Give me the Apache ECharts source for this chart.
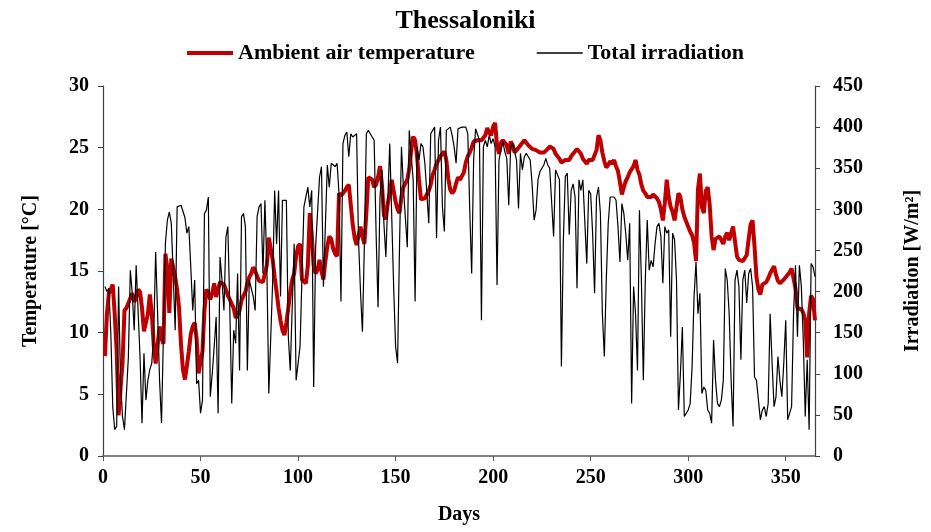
<!DOCTYPE html>
<html><head><meta charset="utf-8">
<script src="https://cdn.jsdelivr.net/npm/echarts@6/dist/echarts.min.js"></script>
<style>html,body{margin:0;padding:0;background:#fff}#c{width:931px;height:532px}</style>
</head><body><div id="c"></div>
<script>
const chartTitle = 'Thessaloniki';
const seriesNames = ['Ambient air temperature', 'Total irradiation'];
const xAxisName = 'Days';
const leftAxisName = 'Temperature [°C]';
const rightAxisName = 'Irradiation [W/m²]';
const xTicks = [0, 50, 100, 150, 200, 250, 300, 350];

// Daily mean ambient air temperature, days 1..365 (°C)
const temperature = [
8.1,11.5,13.2,13.5,13.9,11.5,8.5,3.3,5.5,7.5,
11.8,12.0,12.1,12.8,13.2,12.5,12.8,13.5,13.3,12.0,
10.1,10.0,11.5,13.1,11.6,9.0,7.5,7.5,10.5,9.5,
9.1,16.4,15.2,11.6,16.0,15.3,14.5,13.5,12.0,9.0,
7.0,6.2,7.3,8.5,9.9,10.5,10.8,9.5,6.7,6.7,
8.5,11.8,13.5,13.2,12.7,13.2,14.0,12.9,13.5,14.1,
14.0,13.9,13.5,13.0,12.7,12.3,12.0,11.2,11.4,11.8,
12.6,13.0,13.3,14.0,14.5,14.8,15.3,15.0,14.6,14.2,
14.1,14.1,14.0,15.5,17.7,16.8,15.9,14.5,13.3,12.0,
11.0,10.2,9.8,10.8,12.0,13.3,14.3,14.8,16.2,17.0,
17.2,14.3,14.2,14.0,15.4,19.7,18.0,15.5,14.8,15.1,
15.9,15.0,14.3,15.8,17.0,17.8,17.6,16.8,16.4,16.2,
21.3,21.1,21.0,21.5,21.8,22.0,20.4,18.8,17.7,17.1,
17.0,18.6,17.8,17.2,19.7,22.6,22.6,22.4,21.8,22.0,
22.6,23.5,22.0,19.5,19.2,20.5,21.3,22.4,21.5,20.6,
20.0,19.7,21.0,21.8,22.1,22.4,23.3,24.8,25.9,25.6,
24.3,22.4,20.8,20.8,20.9,21.2,21.5,22.0,22.8,23.2,
23.7,24.0,24.3,24.5,24.7,24.0,22.5,21.6,21.3,21.5,
22.1,22.6,22.4,22.5,23.0,23.8,24.3,24.6,25.0,25.5,
25.6,25.6,25.6,25.6,25.7,26.0,26.6,26.2,26.0,26.7,
27.0,25.2,24.5,25.4,25.6,25.5,25.2,24.5,25.5,25.2,
24.6,24.6,25.0,25.1,25.4,25.6,25.6,25.2,25.1,24.9,
24.8,24.8,24.7,24.6,24.5,24.6,24.7,24.9,25.1,25.2,
24.9,24.5,24.3,24.1,23.8,23.8,24.0,23.9,24.0,24.3,
24.5,24.7,24.9,24.7,24.5,24.1,23.9,23.7,24.0,24.1,
24.0,23.9,24.8,26.0,25.6,24.6,23.9,23.4,23.6,23.9,
23.7,24.0,23.5,23.1,22.2,21.2,21.8,22.3,22.6,23.0,
23.0,23.5,24.0,23.2,22.8,22.0,21.5,21.3,21.0,20.9,
21.0,21.2,21.2,20.9,20.6,20.0,19.1,20.5,22.4,21.0,
20.2,19.8,19.1,19.1,21.3,21.0,20.0,19.4,19.0,18.9,
18.2,17.9,17.3,15.8,21.6,22.9,20.2,19.7,21.5,21.8,
20.4,17.8,16.7,17.6,17.5,17.8,17.5,17.2,17.8,18.1,
17.5,17.5,18.6,17.4,16.2,15.9,15.9,15.8,15.8,16.3,
17.6,18.8,19.1,17.0,14.5,13.5,13.1,13.9,14.0,14.1,
14.4,14.8,15.1,15.4,14.7,14.2,14.0,13.9,14.3,14.5,
14.6,14.9,15.2,15.1,13.6,12.0,12.0,11.9,11.6,11.0,
8.0,11.6,13.0,12.7,11.0
];

// Daily mean total irradiation, days 1..365 (W/m²)
const irradiation = [
206,200,204,150,60,32,36,206,90,48,
32,32,120,226,198,153,232,234,120,40,
125,68,92,105,113,149,248,173,92,40,
150,259,287,297,283,220,153,303,303,305,
307,290,271,279,230,177,214,88,92,52,
68,295,299,315,72,100,133,169,52,242,
214,177,266,279,181,64,153,137,222,104,
291,295,279,104,214,214,194,177,291,303,
307,222,311,230,76,76,214,323,258,323,
194,311,311,311,145,104,104,258,92,92,
133,133,303,303,327,303,323,84,254,254,
339,352,206,206,354,327,356,356,352,356,
319,188,380,390,394,364,392,388,388,392,
262,200,151,258,392,396,392,388,384,271,
181,315,348,283,242,311,380,380,206,133,
113,254,376,327,290,254,396,396,336,188,
376,360,380,376,356,320,283,392,396,400,
265,384,400,303,273,396,398,400,390,376,
356,398,400,400,400,400,392,300,222,360,
398,396,384,165,376,384,376,390,380,386,
376,208,360,372,382,370,362,305,376,380,
370,360,301,368,348,364,368,364,360,330,
287,299,336,346,350,354,362,354,350,352,
267,348,348,336,109,263,340,344,269,323,
331,315,204,336,323,336,336,234,323,319,
271,198,315,327,295,173,121,214,283,315,
313,315,311,279,236,307,295,270,238,283,
64,206,173,104,299,214,92,214,287,226,
238,230,258,279,283,267,210,279,271,275,
145,271,263,214,56,100,157,48,52,56,
64,109,194,236,173,198,76,84,80,56,
52,40,141,92,64,60,68,92,228,214,
173,92,36,214,226,206,117,214,226,186,
222,228,206,96,92,68,44,56,60,48,
64,173,113,60,72,121,92,72,113,165,
44,44,60,173,232,145,232,206,141,48,
117,32,234,230,218
];

const days = temperature.map((_, i) => i + 1);
const tempData = days.map((d, i) => [d, temperature[i]]);
const irrData = days.map((d, i) => [d, irradiation[i]]);

const FONT = "'Times New Roman', 'Liberation Serif', serif";
const txt = (size) => ({ fontFamily: FONT, fontWeight: 'bold', fontSize: size, color: '#000' });

const chart = echarts.init(document.getElementById('c'), null, { renderer: 'canvas' });
chart.setOption({
  animation: false,
  backgroundColor: '#fff',
  title: {
    text: chartTitle, left: 'center', top: 3,
    textStyle: txt(26)
  },
  legend: {
    top: 37, left: 'center',
    itemWidth: 46, itemHeight: 14, itemGap: 62,
    symbolKeepAspect: true,
    textStyle: txt(22),
    data: [
      { name: seriesNames[0], icon: 'path://M0,0H46V4H0Z', itemStyle: { color: '#C00000' } },
      { name: seriesNames[1], icon: 'path://M0,0H46V1.4H0Z', itemStyle: { color: '#000000' } }
    ]
  },
  grid: { left: 103, right: 116, top: 86, bottom: 76, containLabel: false },
  xAxis: {
    type: 'value', min: 0, max: 365,
    name: xAxisName, nameLocation: 'middle', nameGap: 49,
    nameTextStyle: txt(20),
    axisLine: { show: true, lineStyle: { color: '#595959', width: 1.5 } },
    axisTick: { show: true, length: 5, inside: false, customValues: xTicks, lineStyle: { color: '#595959' } },
    axisLabel: { customValues: xTicks, margin: 12, ...txt(20) },
    splitLine: { show: false }
  },
  yAxis: [
    {
      type: 'value', min: 0, max: 30, interval: 5, position: 'left',
      name: leftAxisName, nameLocation: 'middle', nameGap: 62, nameRotate: 90,
      nameTextStyle: txt(20),
      axisLine: { show: true, lineStyle: { color: '#404040', width: 1.2 } },
      axisTick: { show: true, length: 5, inside: false, lineStyle: { color: '#404040' } },
      axisLabel: { margin: 14, ...txt(20) },
      splitLine: { show: false }
    },
    {
      type: 'value', min: 0, max: 450, interval: 50, position: 'right',
      name: rightAxisName, nameLocation: 'middle', nameGap: 88, nameRotate: 90,
      nameTextStyle: txt(20),
      axisLine: { show: true, lineStyle: { color: '#404040', width: 1.2 } },
      axisTick: { show: true, length: 5, inside: false, lineStyle: { color: '#404040' } },
      axisLabel: { margin: 18, ...txt(20) },
      splitLine: { show: false }
    }
  ],
  series: [
    {
      name: seriesNames[0], type: 'line', yAxisIndex: 0, data: tempData,
      showSymbol: false, symbol: 'none', z: 2,
      lineStyle: { color: '#C00000', width: 4 }, itemStyle: { color: '#C00000' }
    },
    {
      name: seriesNames[1], type: 'line', yAxisIndex: 1, data: irrData,
      showSymbol: false, symbol: 'none', z: 3,
      lineStyle: { color: '#000000', width: 1.2 }, itemStyle: { color: '#000000' }
    }
  ]
});
</script>
</body></html>
